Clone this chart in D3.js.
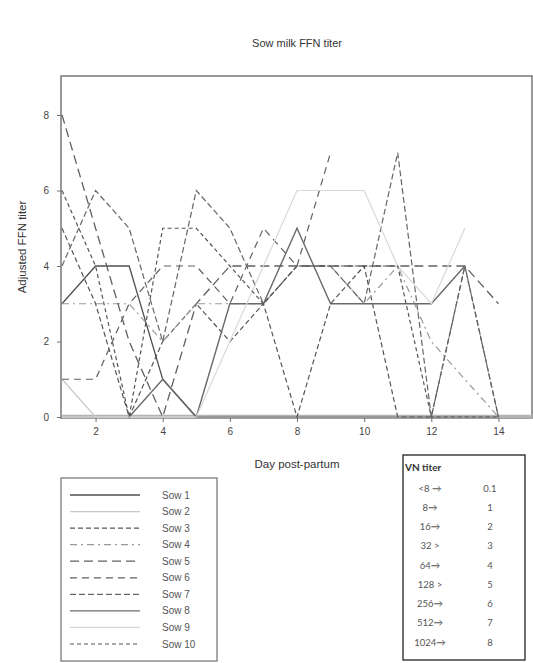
<!DOCTYPE html>
<html><head><meta charset="utf-8">
<script src="https://cdn.jsdelivr.net/npm/d3@7"></script>
<style>body{margin:0;background:#fff}svg{display:block}</style>
</head><body>
<svg id="c" width="533" height="663"></svg>
<script>
const days = [1,2,3,4,5,6,7,8,9,10,11,12,13,14];
const sowNames = ["Sow 1","Sow 2","Sow 3","Sow 4","Sow 5","Sow 6","Sow 7","Sow 8","Sow 9","Sow 10"];
const sow1  = [3,4,4,1,0,0,0,0,0,0,0,0,0,0];
const sow2  = [1,0,0,0,0,0,0,0,0,0,0,0,0,0];
const sow3  = [5,3,0,2,3,2,3,0,3,4,0,0,4,0];
const sow4  = [3,3,3,2,3,3,3,4,4,3,4,2,1,0];
const sow5  = [8,5,2,0,3,4,4,4,4,4,4,4,4,3];
const sow6  = [1,1,3,4,4,3,5,4,7,null,null,null,null,null];
const sow7  = [4,6,5,2,6,5,3,4,4,3,7,0,4,0];
const sow8  = [null,null,0,1,0,3,3,5,3,3,3,3,4,null];
const sow9  = [0,0,0,0,0,2,4,6,6,6,4,3,5,null];
const sow10 = [6,4,0,5,5,4,3,4,4,4,4,0,0,0];
const series = [sow1,sow2,sow3,sow4,sow5,sow6,sow7,sow8,sow9,sow10];
const yTicks = [0,2,4,6,8];
const xTicks = [2,4,6,8,10,12,14];
const vnTiter = ["<8 \u2192","8\u2192","16\u2192","32 >","64\u2192","128 >","256\u2192","512\u2192","1024\u2192"];
const vnValue = ["0.1","1","2","3","4","5","6","7","8"];

const styles = [
  {c:"#505050", w:1.3, d:null},
  {c:"#c8c8c8", w:1.2, d:null},
  {c:"#555", w:1.2, d:"5,3"},
  {c:"#9a9a9a", w:1.2, d:"7,4,2,4"},
  {c:"#606060", w:1.3, d:"9,5"},
  {c:"#606060", w:1.2, d:"7,5"},
  {c:"#666", w:1.2, d:"6,3"},
  {c:"#6a6a6a", w:1.4, d:null},
  {c:"#d8d8d8", w:1.2, d:null},
  {c:"#555", w:1.2, d:"4,3"}
];

const svg = d3.select("#c");
const font = "'Liberation Sans', Arial, sans-serif";
const L=62, R=532, T=76, B=418;
const x = d3.scaleLinear().domain([1,15]).range([L,R]);
const y = d3.scaleLinear().domain([0,9]).range([417,417-9*37.75]);

// frame
svg.append("rect").attr("x",L-1).attr("y",T).attr("width",R-L+1).attr("height",B-T)
  .attr("fill","none").attr("stroke","#808080").attr("stroke-width",1.6);
// thick light band at zero level
svg.append("line").attr("x1",L).attr("x2",R).attr("y1",y(0)-0.5).attr("y2",y(0)-0.5)
  .attr("stroke","#b4b4b4").attr("stroke-width",3.5);

const line = d3.line().defined(d=>d[1]!==null).x(d=>x(d[0])).y(d=>y(d[1]));
series.forEach((s,i)=>{
  const st = styles[i];
  svg.append("path").datum(days.map((d,j)=>[d,s[j]]))
    .attr("d",line).attr("fill","none").attr("stroke",st.c)
    .attr("stroke-width",st.w).attr("stroke-dasharray",st.d);
});

// axes
const ya = svg.append("g").attr("transform",`translate(${L-1},0)`)
  .call(d3.axisLeft(y).tickValues(yTicks).tickSize(4).tickPadding(8));
const xa = svg.append("g").attr("transform",`translate(0,${B})`)
  .call(d3.axisBottom(x).tickValues(xTicks).tickSize(4).tickPadding(6));
[ya,xa].forEach(g=>{
  g.select(".domain").remove();
  g.selectAll("line").attr("stroke","#707070");
  g.selectAll("text").attr("fill","#444").style("font-family",font).style("font-size","10px");
});

svg.append("text").attr("x",297).attr("y",47).attr("text-anchor","middle")
  .style("font-family",font).style("font-size","11px").attr("fill","#333").text("Sow milk FFN titer");
svg.append("text").attr("x",297).attr("y",468).attr("text-anchor","middle")
  .style("font-family",font).style("font-size","11.5px").attr("fill","#333").text("Day post-partum");
svg.append("text").attr("transform","translate(26,247) rotate(-90)").attr("text-anchor","middle")
  .style("font-family",font).style("font-size","11.5px").attr("fill","#333").text("Adjusted FFN titer");

// legend
const lg = svg.append("g");
lg.append("rect").attr("x",61).attr("y",478).attr("width",156).attr("height",183)
  .attr("fill","#fff").attr("stroke","#707070").attr("stroke-width",1.2);
const ly = d3.scalePoint().domain(sowNames).range([495,644]);
sowNames.forEach((n,i)=>{
  const st=styles[i];
  lg.append("line").attr("x1",70).attr("x2",140).attr("y1",ly(n)).attr("y2",ly(n))
    .attr("stroke",st.c).attr("stroke-width",st.w).attr("stroke-dasharray",st.d);
  lg.append("text").attr("x",162).attr("y",ly(n)+3.5).style("font-family",font)
    .style("font-size","10px").attr("fill","#555").text(n);
});

// VN titer table
const vt = svg.append("g");
vt.append("rect").attr("x",403).attr("y",455).attr("width",122).attr("height",205)
  .attr("fill","#fff").attr("stroke","#222").attr("stroke-width",1.3);
vt.append("text").attr("x",405).attr("y",471).style("font-family","Lato, 'Open Sans', sans-serif")
  .style("font-size","10px").style("font-weight","bold").attr("fill","#333").text("VN titer");
const vy = d3.scalePoint().domain(vnTiter).range([488,642]);
vnTiter.forEach((t,i)=>{
  vt.append("text").attr("x",430).attr("y",vy(t)+3.5).attr("text-anchor","middle")
    .style("font-family","Lato, 'Open Sans', sans-serif").style("font-size","9.5px").attr("fill","#555").text(t);
  vt.append("text").attr("x",490).attr("y",vy(t)+3.5).attr("text-anchor","middle")
    .style("font-family","Lato, 'Open Sans', sans-serif").style("font-size","9.5px").attr("fill","#555").text(vnValue[i]);
});
</script>
</body></html>
